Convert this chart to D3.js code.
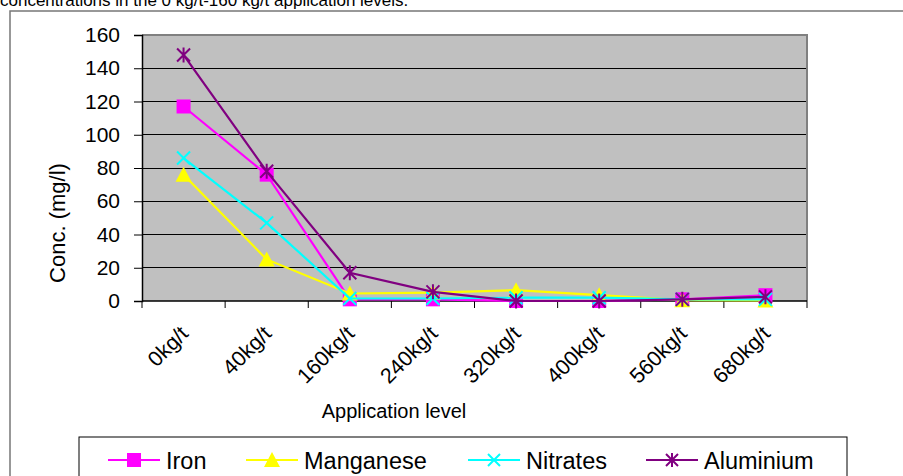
<!DOCTYPE html>
<html><head><meta charset="utf-8">
<script src="https://cdn.jsdelivr.net/npm/d3@7"></script>
<style>
html,body{margin:0;padding:0;background:#fff;overflow:hidden}
svg{display:block;font-family:"Liberation Sans",Arial,sans-serif}
</style></head>
<body>
<svg id="c" width="903" height="476"></svg>
<script>
const categories = ["0kg/t","40kg/t","160kg/t","240kg/t","320kg/t","400kg/t","560kg/t","680kg/t"];
const iron       = [117, 76, 1, 1, 0, 0, 1, 3.5];
const manganese  = [76, 25, 4.5, 5, 6.5, 3.5, 0.5, 0.3];
const nitrates   = [86, 47, 1.5, 1.5, 2, 2, 1, 1];
const aluminium  = [148, 78, 17, 5.5, 0, 0, 1, 2.5];
const yTicks     = [0, 20, 40, 60, 80, 100, 120, 140, 160];
const seriesNames = ["Iron","Manganese","Nitrates","Aluminium"];
const seriesColors = ["#FF00FF","#FFFF00","#00FFFF","#800080"];
const seriesSymbols = ["square","triangle","x","asterisk"];

const series = [iron, manganese, nitrates, aluminium].map((v,i)=>({
  name: seriesNames[i], color: seriesColors[i], sym: seriesSymbols[i], values: v
}));

const svg = d3.select("#c");
const plot = {l:142, r:807, t:35, b:301};

// top caption (clipped by the window edge, as in the source)
svg.append("text").attr("x",0).attr("y",6).attr("font-size",17)
  .text("concentrations in the 0 kg/t-160 kg/t application levels.");

// outer chart border
svg.append("rect").attr("x",10).attr("y",11).attr("width",950).attr("height",520)
  .attr("fill","none").attr("stroke","#777").attr("stroke-width",1.5);

const x = d3.scaleBand().domain(categories).range([plot.l, plot.r]).padding(0);
const y = d3.scaleLinear().domain([0,160]).range([plot.b, plot.t]);

// plot background
svg.append("rect").attr("x",plot.l).attr("y",plot.t).attr("width",plot.r-plot.l).attr("height",plot.b-plot.t)
  .attr("fill","#C0C0C0");

// gridlines
svg.append("g").selectAll("line").data(yTicks.filter(d=>d>0 && d<160)).join("line")
  .attr("x1",plot.l).attr("x2",plot.r).attr("y1",d=>y(d)).attr("y2",d=>y(d))
  .attr("stroke","#000").attr("stroke-width",1).attr("shape-rendering","crispEdges");

// plot border (top/right grey)
svg.append("path").attr("d",`M${plot.l},${plot.t}H${plot.r}V${plot.b}`)
  .attr("fill","none").attr("stroke","#808080").attr("stroke-width",2);

// y axis
const yAxis = d3.axisLeft(y).tickValues(yTicks).tickSize(8).tickPadding(14).tickFormat(d3.format("d"));
const gy = svg.append("g").attr("transform",`translate(${plot.l},0)`).call(yAxis);
gy.select(".domain").attr("stroke","#000").attr("stroke-width",1.5);
gy.selectAll(".tick line").attr("stroke","#000");
gy.selectAll(".tick text").attr("font-size",21).attr("fill","#000")
  .attr("font-family","Liberation Sans, Arial, sans-serif");

// x axis: ticks at category boundaries
const gx = svg.append("g").attr("transform",`translate(0,${plot.b})`);
gx.append("line").attr("x1",plot.l).attr("x2",plot.r).attr("y1",0).attr("y2",0)
  .attr("stroke","#000").attr("stroke-width",1.5);
const bounds = categories.map(c=>x(c)).concat([x(categories[categories.length-1])+x.bandwidth()]);
gx.selectAll("line.tk").data(bounds).join("line").attr("class","tk")
  .attr("x1",d=>d).attr("x2",d=>d).attr("y1",0).attr("y2",7).attr("stroke","#000");
gx.selectAll("text").data(categories).join("text")
  .attr("transform",d=>`translate(${x(d)+x.bandwidth()/2+6},${34}) rotate(-45)`)
  .attr("text-anchor","end").attr("font-size",21.5).attr("fill","#000").text(d=>d);

// axis titles
svg.append("text").attr("transform",`translate(65,223) rotate(-90)`)
  .attr("text-anchor","middle").attr("font-size",22).text("Conc. (mg/l)");
svg.append("text").attr("x",394).attr("y",418).attr("text-anchor","middle").attr("font-size",20)
  .text("Application level");

// lines and markers
const line = d3.line().x((d,i)=>x(categories[i])+x.bandwidth()/2).y(d=>y(d));
function drawMarker(g, sym, color, cx, cy, s){
  if(sym==="square"){
    g.append("rect").attr("x",cx-s/2).attr("y",cy-s/2).attr("width",s).attr("height",s).attr("fill",color);
  } else if(sym==="triangle"){
    const h=s;
    g.append("path").attr("d",`M${cx},${cy-h/2-1}L${cx+h/2+1},${cy+h/2}L${cx-h/2-1},${cy+h/2}Z`).attr("fill",color);
  } else if(sym==="x"){
    const r=s/2;
    g.append("path").attr("d",`M${cx-r},${cy-r}L${cx+r},${cy+r}M${cx-r},${cy+r}L${cx+r},${cy-r}`)
      .attr("stroke",color).attr("stroke-width",2);
  } else {
    const r=s/2;
    g.append("path").attr("d",`M${cx-r},${cy-r}L${cx+r},${cy+r}M${cx-r},${cy+r}L${cx+r},${cy-r}M${cx},${cy-r-1}L${cx},${cy+r+1}`)
      .attr("stroke",color).attr("stroke-width",2);
  }
}
const gs = svg.append("g");
series.forEach(s=>{
  const g = gs.append("g");
  g.append("path").attr("d",line(s.values)).attr("fill","none").attr("stroke",s.color).attr("stroke-width",2.2);
  s.values.forEach((v,i)=>{
    drawMarker(g, s.sym, s.color, x(categories[i])+x.bandwidth()/2, y(v), s.sym==="square"||s.sym==="triangle"?14:13);
  });
});

// legend
const leg = svg.append("g");
leg.append("rect").attr("x",79).attr("y",437).attr("width",768).attr("height",60)
  .attr("fill","#fff").attr("stroke","#000").attr("stroke-width",1);
const legX = [108, 246, 468, 646];
series.forEach((s,i)=>{
  const lx = legX[i], ly = 460;
  leg.append("line").attr("x1",lx).attr("x2",lx+52).attr("y1",ly).attr("y2",ly)
    .attr("stroke",s.color).attr("stroke-width",2.2);
  drawMarker(leg, s.sym, s.color, lx+26, ly, s.sym==="square"||s.sym==="triangle"?14:12);
  leg.append("text").attr("x",lx+58).attr("y",ly+8.5).attr("font-size",23.5).text(s.name);
});
</script>
</body></html>
